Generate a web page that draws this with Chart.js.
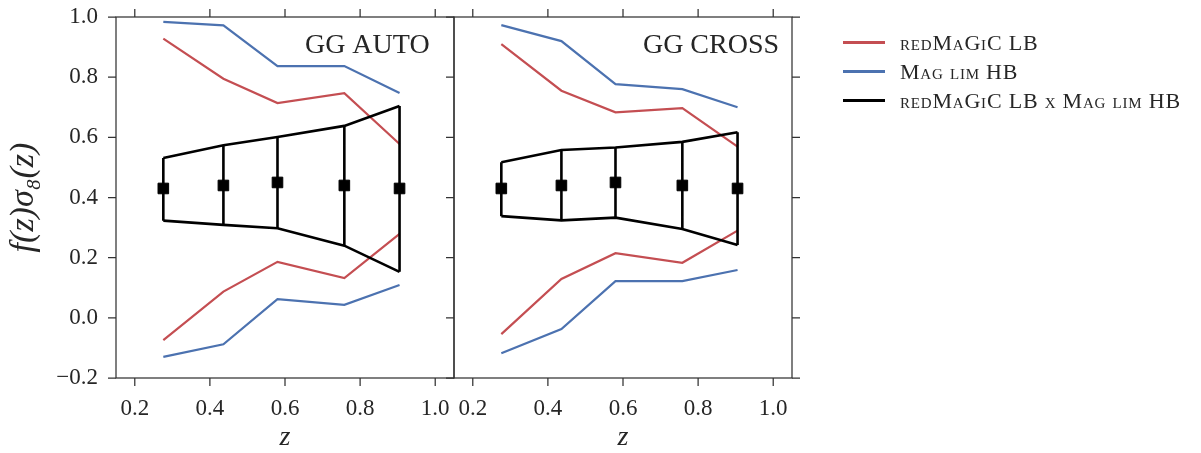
<!DOCTYPE html>
<html>
<head>
<meta charset="utf-8">
<script src="https://cdn.jsdelivr.net/npm/chart.js@4.4.1/dist/chart.umd.min.js"></script>
<style>
  body { margin: 0; background: #fff; }
  #wrap { position: relative; width: 1201px; height: 453px; }
  #legend {
    position: absolute; left: 843px; top: 28px;
    font-family: 'Liberation Serif', serif; font-size: 22px; letter-spacing: 0.8px;
    font-variant: small-caps; color: #262626;
  }
  .item { display: flex; align-items: center; height: 29px; white-space: nowrap; }
  .swatch { width: 42px; margin-right: 15px; }
</style>
</head>
<body>
<div id="wrap">
  <canvas id="fsig" width="1201" height="453"></canvas>
  <div id="legend"></div>
</div>
<script>
// redshift bins and axis ticks
const zBins = [0.276, 0.436, 0.580, 0.758, 0.905];
const xTicks = [0.2, 0.4, 0.6, 0.8, 1.0];
const yTicks = [-0.2, 0.0, 0.2, 0.4, 0.6, 0.8, 1.0];

// fiducial f(z)sigma8(z) points
const fsig8 = [0.43, 0.44, 0.45, 0.44, 0.43];

// GG auto bounds
const autoRedHi = [0.928, 0.795, 0.714, 0.747, 0.578];
const autoRedLo = [-0.074, 0.087, 0.186, 0.132, 0.279];
const autoBlueHi = [0.984, 0.972, 0.837, 0.837, 0.747];
const autoBlueLo = [-0.130, -0.088, 0.062, 0.043, 0.109];
const autoBlackHi = [0.531, 0.574, 0.601, 0.638, 0.704];
const autoBlackLo = [0.323, 0.309, 0.298, 0.240, 0.153];

// GG cross bounds
const crossRedHi = [0.910, 0.755, 0.683, 0.697, 0.569];
const crossRedLo = [-0.054, 0.129, 0.215, 0.183, 0.290];
const crossBlueHi = [0.973, 0.920, 0.777, 0.760, 0.700];
const crossBlueLo = [-0.118, -0.037, 0.122, 0.122, 0.159];
const crossBlackHi = [0.517, 0.558, 0.566, 0.585, 0.617];
const crossBlackLo = [0.338, 0.324, 0.333, 0.295, 0.242];

const legendNames = ['redMaGiC LB', 'Mag lim HB', 'redMaGiC LB x Mag lim HB'];
const RED = '#C44E52', BLUE = '#4C72B0', BLACK = '#000000';
const legendColors = [RED, BLUE, BLACK];

const panels = [
  { axis: 'x1', name: 'GG AUTO', red: [autoRedHi, autoRedLo], blue: [autoBlueHi, autoBlueLo], black: [autoBlackHi, autoBlackLo] },
  { axis: 'x2', name: 'GG CROSS', red: [crossRedHi, crossRedLo], blue: [crossBlueHi, crossBlueLo], black: [crossBlackHi, crossBlackLo] }
];

const serif = "'Liberation Serif', 'DejaVu Serif', serif";
const fmt = v => (v < -1e-9 ? '\u2212' : '') + Math.abs(v).toFixed(1);

function curve(axis, vals, color, width) {
  return {
    type: 'line', xAxisID: axis, yAxisID: 'y',
    data: zBins.map((z, i) => ({ x: z, y: vals[i] })),
    borderColor: color, borderWidth: width,
    pointRadius: 0, fill: false, tension: 0
  };
}

function errorBars(axis, hi, lo) {
  const pts = [];
  zBins.forEach((z, i) => {
    pts.push({ x: z, y: lo[i] }, { x: z, y: hi[i] }, { x: z, y: null });
  });
  return {
    type: 'line', xAxisID: axis, yAxisID: 'y', data: pts,
    borderColor: BLACK, borderWidth: 2.6, pointRadius: 0, spanGaps: false
  };
}

function markers(axis) {
  return {
    type: 'line', xAxisID: axis, yAxisID: 'y', showLine: false,
    data: zBins.map((z, i) => ({ x: z, y: fsig8[i] })),
    pointStyle: 'rect', pointRadius: 7.5,
    backgroundColor: BLACK, borderColor: BLACK, borderWidth: 1
  };
}

const datasets = [];
panels.forEach(p => {
  datasets.push(markers(p.axis));
  datasets.push(errorBars(p.axis, p.black[0], p.black[1]));
  datasets.push(curve(p.axis, p.black[0], BLACK, 2.6));
  datasets.push(curve(p.axis, p.black[1], BLACK, 2.6));
  datasets.push(curve(p.axis, p.blue[0], BLUE, 2.2));
  datasets.push(curve(p.axis, p.blue[1], BLUE, 2.2));
  datasets.push(curve(p.axis, p.red[0], RED, 2.2));
  datasets.push(curve(p.axis, p.red[1], RED, 2.2));
});

function xAxis() {
  return {
    type: 'linear', position: 'bottom', stack: 'panels', stackWeight: 1,
    min: 0.15, max: 1.05,
    afterBuildTicks: s => { s.ticks = xTicks.map(v => ({ value: v })); },
    afterFit: s => { s.height = 75; s.paddingLeft = 0; s.paddingRight = 0; },
    grid: { display: false, drawTicks: false },
    border: { display: false },
    ticks: {
      padding: 17, color: '#262626', maxRotation: 0, autoSkip: false,
      font: { family: serif, size: 23 }, callback: v => fmt(v)
    },
    title: {
      display: true, text: 'z', color: '#262626',
      font: { family: serif, size: 28, style: 'italic', lineHeight: 1 },
      padding: { top: 0, bottom: 1 }
    }
  };
}

// frame, tick marks and panel names
const frame = {
  id: 'frame',
  afterDatasetsDraw(chart) {
    const { ctx, chartArea: { top, bottom }, scales } = chart;
    const y = scales.y;
    ctx.save();
    ctx.strokeStyle = '#333';
    ctx.lineWidth = 1.25;
    panels.forEach((p, k) => {
      const xs = scales[p.axis];
      const l = xs.left, r = xs.right;
      ctx.strokeRect(l, top, r - l, bottom - top);
      ctx.beginPath();
      xTicks.forEach(v => {
        const px = xs.getPixelForValue(v);
        ctx.moveTo(px, bottom); ctx.lineTo(px, bottom + 8);
        ctx.moveTo(px, top); ctx.lineTo(px, top - 8);
      });
      yTicks.forEach(v => {
        const py = y.getPixelForValue(v);
        ctx.moveTo(l, py); ctx.lineTo(l - 8, py);
        if (k === panels.length - 1) { ctx.moveTo(r, py); ctx.lineTo(r + 8, py); }
      });
      ctx.stroke();
      ctx.fillStyle = '#262626';
      ctx.font = '28px ' + serif;
      ctx.textAlign = 'left';
      ctx.textBaseline = 'alphabetic';
      ctx.fillText(p.name, xs.getPixelForValue(0.653), y.getPixelForValue(0.88));
    });
    ctx.restore();
  }
};

new Chart(document.getElementById('fsig'), {
  type: 'line',
  data: { datasets },
  options: {
    responsive: false,
    devicePixelRatio: 1,
    animation: false,
    layout: { padding: { left: 0, top: 17, right: 409, bottom: 0 } },
    plugins: { legend: { display: false }, tooltip: { enabled: false } },
    scales: {
      x1: xAxis(),
      x2: xAxis(),
      y: {
        type: 'linear', position: 'left', min: -0.2, max: 1.0,
        afterBuildTicks: s => { s.ticks = yTicks.map(v => ({ value: v })); },
        afterFit: s => { s.width = 116; s.paddingTop = 0; s.paddingBottom = 0; },
        grid: { display: false, drawTicks: false },
        border: { display: false },
        ticks: {
          padding: 18, color: '#262626',
          font: { family: serif, size: 23 }, callback: v => fmt(v)
        },
        title: {
          display: true, text: 'f(z)σ\u2088(z)', color: '#262626',
          font: { family: serif, size: 34, style: 'italic', lineHeight: 1 },
          padding: { top: 7, bottom: 0 }
        }
      }
    }
  },
  plugins: [frame]
});

// legend
const legendEl = document.getElementById('legend');
legendNames.forEach((name, i) => {
  const row = document.createElement('div');
  row.className = 'item';
  row.innerHTML = `<span class="swatch" style="background:${legendColors[i]};height:${i === 2 ? 3 : 2.5}px"></span><span>${name}</span>`;
  legendEl.appendChild(row);
});
</script>
</body>
</html>
